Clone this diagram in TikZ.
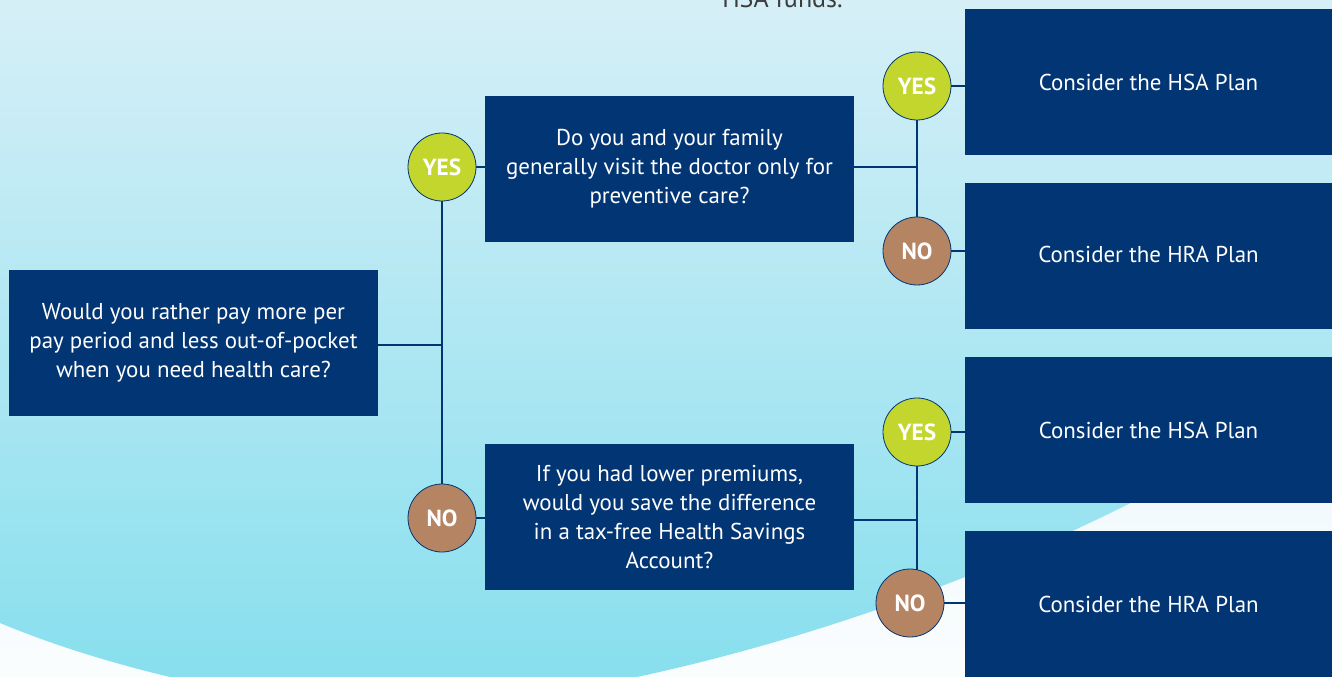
\documentclass[tikz,border=0pt]{standalone}
\usepackage{fontspec}
\setmainfont{PT Sans}
\definecolor{navy}{HTML}{023574}
\definecolor{yesg}{HTML}{C3D62E}
\definecolor{nob}{HTML}{B58463}
\definecolor{bgtop}{HTML}{D6EFF7}
\definecolor{bgbot}{HTML}{88DFEE}
\definecolor{wtop}{HTML}{DDF2F8}
\definecolor{wbot}{HTML}{FAFDFE}
\definecolor{toptext}{HTML}{3C3C3C}
\pgfdeclarelayer{back}
\pgfdeclarelayer{lines}
\pgfsetlayers{back,lines,main}
\tikzset{
  qbox/.style={fill=navy, text=white, minimum width=276.75pt, minimum height=109.5pt,
    inner sep=0pt, align=center, font=\fontsize{17.2}{21.75}\selectfont},
  rbox/.style={qbox, minimum width=275.25pt},
  yesc/.style={circle, fill=yesg, draw=navy, line width=0.6pt, minimum size=51pt, inner sep=0pt,
    text=white, font=\fontsize{17.5}{20}\selectfont\bfseries},
  noc/.style={yesc, fill=nob},
  conn/.style={draw=navy, line width=2.2pt}
}
\begin{document}
\begin{tikzpicture}[x=0.75pt,y=-0.75pt]
\useasboundingbox (0,0) rectangle (1332,677);
\begin{pgfonlayer}{back}
  \shade[top color=wtop, bottom color=wbot] (0,0) rectangle (1332,677);
  \shade[top color=bgtop, bottom color=bgbot]
    (0,0) -- (1332,0) -- (1332,385)
    .. controls (1150,510) and (900,620) .. (637,677)
    -- (170,677)
    .. controls (120,665) and (60,648) .. (0,623) -- cycle;
\end{pgfonlayer}

\node[anchor=base west, text=toptext, inner sep=0pt, font=\fontsize{19.5}{22}\selectfont] (hsa) at (722,7.5) {HSA funds.};

\node[qbox] (q1) at (193.5,343) {Would you rather pay more per\\pay period and less out-of-pocket\\when you need health care?};
\node[qbox] (q2) at (669.5,169) {\raisebox{2.5pt}{\begin{tabular}{@{}c@{}}Do you and your family\\generally visit the doctor only for\\preventive care?\end{tabular}}};
\node[qbox] (q3) at (669.5,517) {If you had lower premiums,\\would you save the difference\\in a tax-free Health Savings\\Account?};

\node[rbox] (r1) at (1148.5,82) {Consider the HSA Plan};
\node[rbox] (r2) at (1148.5,256) {\raisebox{3pt}{Consider the HRA Plan}};
\node[rbox] (r3) at (1148.5,430) {Consider the HSA Plan};
\node[rbox] (r4) at (1148.5,604) {Consider the HRA Plan};

\node[yesc] (y1) at (442,167) {YES};
\node[noc]  (n1) at (442,518) {NO};
\node[yesc] (y2) at (917,86) {YES};
\node[noc]  (n2) at (917,251) {NO};
\node[yesc] (y3) at (917,432) {YES};
\node[noc]  (n3) at (910,603) {NO};

\coordinate (j1) at (442,345);
\coordinate (j2) at (917,167);
\coordinate (j3) at (917,520);

\begin{pgfonlayer}{lines}
  \draw[conn] (y1.center) -- (n1.center);
  \draw[conn] (q1.east |- j1) -- (j1);
  \draw[conn] (y1.center) -- (y1.center -| q2.west);
  \draw[conn] (n1.center) -- (n1.center -| q3.west);
  \draw[conn] (q2.east |- j2) -- (j2);
  \draw[conn] (y2.center) -- (n2.center);
  \draw[conn] (y2.center) -- (y2.center -| r1.west);
  \draw[conn] (n2.center) -- (n2.center -| r2.west);
  \draw[conn] (q3.east |- j3) -- (j3);
  \draw[conn] (y3.center) -- (y3.center |- n3.center);
  \draw[conn] (y3.center) -- (y3.center -| r3.west);
  \draw[conn] (n3.center) -- (n3.center -| r4.west);
\end{pgfonlayer}
\end{tikzpicture}
\end{document}
